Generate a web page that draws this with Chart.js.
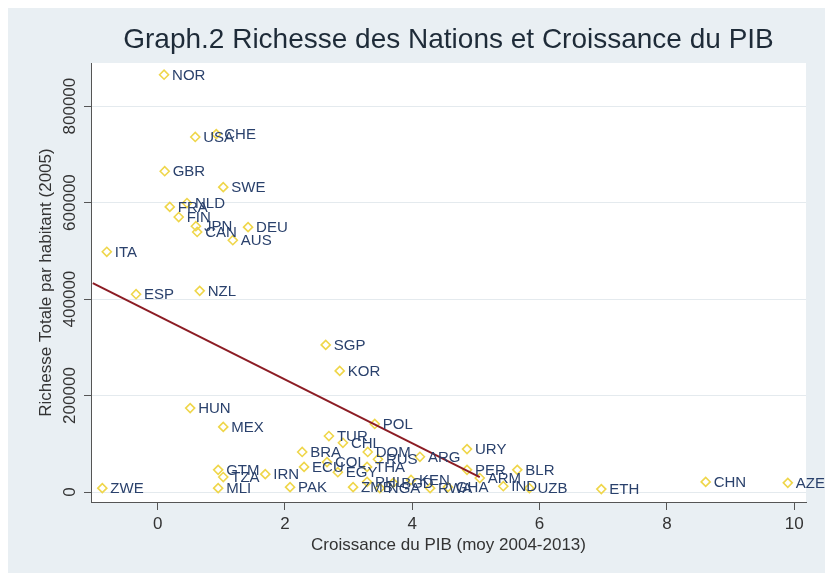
<!DOCTYPE html>
<html>
<head>
<meta charset="utf-8">
<script src="https://cdn.jsdelivr.net/npm/chart.js@4/dist/chart.umd.min.js"></script>
<style>
  html, body { margin: 0; padding: 0; background: #fff; }
</style>
</head>
<body>
<canvas id="chart" width="825" height="581"></canvas>
<script>
// country codes, GDP growth (avg 2004-2013) and total wealth per head (2005)
const countries = ['NOR','USA','CHE','GBR','SWE','FRA','NLD','FIN','JPN','CAN','DEU','AUS','ITA','ESP','NZL',
  'SGP','KOR','HUN','MEX','POL','TUR','CHL','BRA','URY','ARG','PER','BLR','ARM','IND','UZB','ETH','CHN','AZE',
  'ZWE','MLI','GTM','TZA','IRN','PAK','ECU','COL','DOM','RUS','EGY','THA','PHL','ZMB','NGA','BGD','KEN','RWA','GHA'];
const growth = [0.10, 0.59, 0.92, 0.11, 1.03, 0.19, 0.46, 0.33, 0.60, 0.62, 1.42, 1.18, -0.80, -0.34, 0.66,
  2.64, 2.86, 0.51, 1.03, 3.41, 2.69, 2.91, 2.27, 4.86, 4.12, 4.86, 5.65, 5.06, 5.43, 5.84, 6.97, 8.61, 9.90,
  -0.87, 0.95, 0.95, 1.03, 1.69, 2.08, 2.30, 2.66, 3.30, 3.46, 2.83, 3.29, 3.29, 3.07, 3.49, 3.70, 3.98, 4.28, 4.56];
const wealth = [865000, 736000, 742000, 665000, 632000, 591000, 599000, 570000, 551000, 539000, 549000, 522000, 498000, 410000, 417000,
  305000, 251000, 174000, 135000, 141000, 116000, 102000, 83000, 89000, 73000, 46000, 46000, 29000, 12000, 8000, 6000, 21000, 19000,
  8000, 8000, 46000, 31000, 37000, 10000, 52000, 62000, 83000, 68000, 41000, 52000, 21000, 10000, 8000, 19000, 25000, 8000, 10000];

// fitted line end points
const fitX = [-1.02, 5.06];
const fitY = [433000, 31000];

const xTicks = [0, 2, 4, 6, 8, 10];
const yTicks = [0, 200000, 400000, 600000, 800000];

const chartTitle = 'Graph.2 Richesse des Nations et Croissance du PIB';

const frame = {
  id: 'frame',
  beforeDraw(chart) {
    const { ctx, chartArea: a } = chart;
    ctx.save();
    ctx.fillStyle = '#ffffff';
    ctx.fillRect(0, 0, chart.width, chart.height);
    ctx.fillStyle = '#e9eff3';
    ctx.fillRect(8, 8, chart.width - 8, chart.height - 16);
    ctx.fillStyle = '#ffffff';
    ctx.fillRect(a.left, a.top, a.right - a.left, a.bottom - a.top);
    ctx.restore();
  },
  afterDraw(chart) {
    const { ctx, chartArea: a } = chart;
    ctx.save();
    ctx.fillStyle = '#1e2b38';
    ctx.font = '28px "Liberation Sans", Arial, sans-serif';
    ctx.textAlign = 'center';
    ctx.textBaseline = 'middle';
    ctx.fillText(chartTitle, (a.left + a.right) / 2, 40);

    // vertical y tick labels
    const y = chart.scales.y;
    ctx.font = '17px "Liberation Sans", Arial, sans-serif';
    ctx.fillStyle = '#333333';
    y.ticks.forEach(t => {
      ctx.save();
      ctx.translate(70, y.getPixelForValue(t.value));
      ctx.rotate(-Math.PI / 2);
      ctx.fillText(String(t.value), 0, 0);
      ctx.restore();
    });
    ctx.restore();
  }
};

const pointLabels = {
  id: 'pointLabels',
  afterDatasetsDraw(chart) {
    const { ctx } = chart;
    const meta = chart.getDatasetMeta(0);
    ctx.save();
    ctx.font = '15px "Liberation Sans", Arial, sans-serif';
    ctx.fillStyle = '#2a416c';
    ctx.textAlign = 'left';
    ctx.textBaseline = 'middle';
    meta.data.forEach((pt, i) => {
      ctx.fillText(countries[i], pt.x + 8, pt.y + 1);
    });
    ctx.restore();
  }
};

new Chart(document.getElementById('chart'), {
  type: 'scatter',
  data: {
    datasets: [
      {
        data: countries.map((c, i) => ({ x: growth[i], y: wealth[i] })),
        pointStyle: 'rectRot',
        pointRadius: 4.5,
        borderWidth: 1.6,
        borderColor: '#efd64a',
        backgroundColor: 'rgba(255,255,255,0)',
        order: 1
      },
      {
        type: 'line',
        data: fitX.map((v, i) => ({ x: v, y: fitY[i] })),
        borderColor: '#8c1c24',
        borderWidth: 2,
        pointRadius: 0,
        order: 0
      }
    ]
  },
  options: {
    responsive: false,
    animation: false,
    devicePixelRatio: 1,
    layout: { padding: { left: 8, top: 63, right: 19, bottom: 9 } },
    plugins: { legend: { display: false }, tooltip: { enabled: false } },
    scales: {
      x: {
        type: 'linear',
        min: -1.048,
        max: 10.186,
        afterBuildTicks: s => { s.ticks = xTicks.map(v => ({ value: v })); },
        afterFit: s => { s.height = 70; },
        grid: { drawOnChartArea: false, drawTicks: true, tickLength: 8, tickColor: '#555' },
        border: { color: '#555', width: 1 },
        ticks: { color: '#333', font: { size: 17, family: '"Liberation Sans", Arial, sans-serif' }, padding: 4 },
        title: {
          display: true,
          text: 'Croissance du PIB (moy 2004-2013)',
          color: '#333',
          font: { size: 17, family: '"Liberation Sans", Arial, sans-serif' },
          padding: { top: 0, bottom: 16 }
        }
      },
      y: {
        type: 'linear',
        min: -20700,
        max: 889300,
        afterBuildTicks: s => { s.ticks = yTicks.map(v => ({ value: v })); },
        afterFit: s => { s.width = 83; },
        grid: { color: '#e4eaee', drawTicks: true, tickLength: 7, tickColor: '#555' },
        border: { color: '#555', width: 1 },
        ticks: { color: 'rgba(0,0,0,0)', font: { size: 17 } },
        title: {
          display: true,
          text: 'Richesse Totale par habitant (2005)',
          color: '#333',
          font: { size: 17, family: '"Liberation Sans", Arial, sans-serif' },
          padding: { top: 28, bottom: 0 }
        }
      }
    }
  },
  plugins: [frame, pointLabels]
});
</script>
</body>
</html>
